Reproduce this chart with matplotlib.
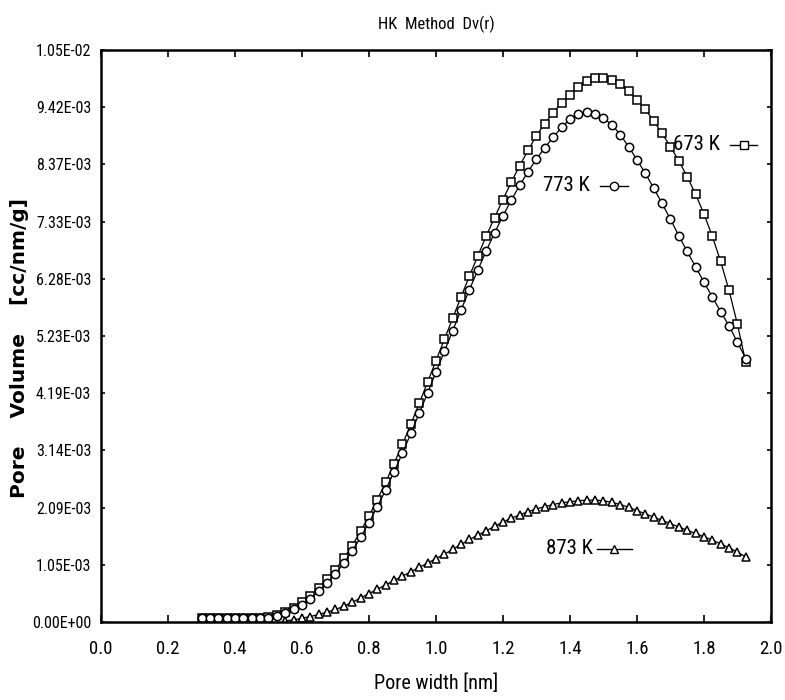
import numpy as np
import matplotlib
matplotlib.use("Agg")
import matplotlib.pyplot as plt
from matplotlib import font_manager as fm

# ---- data (values x 1e-3 cc/nm/g) ----
x_673 = [0.300, 0.325, 0.350, 0.375, 0.400, 0.425, 0.450, 0.475, 0.500, 0.525,
         0.550, 0.575, 0.600, 0.625, 0.650, 0.675, 0.700, 0.725, 0.750, 0.775,
         0.800, 0.825, 0.850, 0.875, 0.900, 0.925, 0.950, 0.975, 1.000, 1.025,
         1.050, 1.075, 1.100, 1.125, 1.150, 1.175, 1.200, 1.225, 1.250, 1.275,
         1.300, 1.325, 1.350, 1.375, 1.400, 1.425, 1.450, 1.475, 1.500, 1.525,
         1.550, 1.575, 1.600, 1.625, 1.650, 1.675, 1.700, 1.725, 1.750, 1.775,
         1.800, 1.825, 1.850, 1.875, 1.900, 1.925]
v_673 = [0.08, 0.08, 0.08, 0.08, 0.08, 0.08, 0.08, 0.08, 0.09, 0.12,
         0.18, 0.26, 0.36, 0.48, 0.62, 0.78, 0.96, 1.17, 1.40, 1.66,
         1.94, 2.24, 2.56, 2.90, 3.25, 3.62, 4.00, 4.39, 4.78, 5.17,
         5.56, 5.95, 6.33, 6.70, 7.06, 7.40, 7.73, 8.05, 8.35, 8.63,
         8.90, 9.12, 9.32, 9.50, 9.65, 9.79, 9.89, 9.95, 9.96, 9.92,
         9.84, 9.72, 9.56, 9.38, 9.17, 8.94, 8.70, 8.44, 8.15, 7.83,
         7.47, 7.06, 6.60, 6.07, 5.45, 4.75]

x_773 = x_673
v_773 = [0.07, 0.07, 0.07, 0.07, 0.07, 0.07, 0.07, 0.07, 0.08, 0.11,
         0.16, 0.23, 0.32, 0.43, 0.56, 0.71, 0.88, 1.08, 1.30, 1.55,
         1.82, 2.11, 2.42, 2.75, 3.09, 3.45, 3.82, 4.19, 4.57, 4.95,
         5.33, 5.71, 6.08, 6.44, 6.79, 7.12, 7.43, 7.72, 7.99, 8.24,
         8.47, 8.68, 8.87, 9.05, 9.20, 9.30, 9.33, 9.30, 9.22, 9.10,
         8.92, 8.70, 8.46, 8.21, 7.94, 7.66, 7.37, 7.07, 6.78, 6.50,
         6.22, 5.95, 5.68, 5.42, 5.12, 4.82]

x_873 = [0.550, 0.575, 0.600, 0.625, 0.650, 0.675, 0.700, 0.725, 0.750, 0.775,
         0.800, 0.825, 0.850, 0.875, 0.900, 0.925, 0.950, 0.975, 1.000, 1.025,
         1.050, 1.075, 1.100, 1.125, 1.150, 1.175, 1.200, 1.225, 1.250, 1.275,
         1.300, 1.325, 1.350, 1.375, 1.400, 1.425, 1.450, 1.475, 1.500, 1.525,
         1.550, 1.575, 1.600, 1.625, 1.650, 1.675, 1.700, 1.725, 1.750, 1.775,
         1.800, 1.825, 1.850, 1.875, 1.900, 1.925]
v_873 = [0.02, 0.04, 0.07, 0.10, 0.14, 0.18, 0.23, 0.29, 0.36, 0.44,
         0.52, 0.60, 0.68, 0.76, 0.84, 0.92, 1.00, 1.08, 1.16, 1.24,
         1.33, 1.42, 1.51, 1.59, 1.67, 1.75, 1.83, 1.90, 1.96, 2.02,
         2.07, 2.11, 2.15, 2.18, 2.20, 2.22, 2.23, 2.23, 2.22, 2.19,
         2.15, 2.10, 2.04, 1.98, 1.92, 1.86, 1.80, 1.74, 1.68, 1.62,
         1.56, 1.50, 1.43, 1.36, 1.28, 1.19]

series_labels = ["673 K", "773 K", "873 K"]
y_ticks = [0.0, 1.0467e-3, 2.0933e-3, 3.14e-3, 4.1867e-3, 5.2333e-3,
           6.28e-3, 7.3267e-3, 8.3733e-3, 9.42e-3, 1.04667e-2]
x_ticks = [0.0, 0.2, 0.4, 0.6, 0.8, 1.0, 1.2, 1.4, 1.6, 1.8, 2.0]


def available(name, stretch="normal"):
    try:
        return fm.findfont(fm.FontProperties(family=name, stretch=stretch),
                           fallback_to_default=False)
    except Exception:
        return None

# choose a narrow font when one exists, otherwise DejaVu Sans at smaller sizes
narrow = None
stretch = "normal"
for cand in ["Liberation Sans Narrow", "Roboto Condensed", "Open Sans Condensed",
             "Noto Sans Condensed"]:
    if available(cand):
        narrow = cand
        break
if narrow is None:
    p = available("DejaVu Sans", "condensed")
    if p and "ondensed" in p:
        narrow, stretch = "DejaVu Sans", "condensed"
if narrow is None:
    fam = "DejaVu Sans"
    fs_ytick, fs_xtick, fs_title, fs_xlab, fs_ann = 10, 11, 11, 12.5, 12
else:
    fam = narrow
    fs_ytick, fs_xtick, fs_title, fs_xlab, fs_ann = 11.5, 13.5, 12, 14.5, 15

fig = plt.figure(figsize=(7.85, 7.0), dpi=100)
ax = fig.add_axes([0.1287, 0.1114, 0.8533, 0.8172])

def sc(v):
    return np.array(v) * 1e-3

ax.plot(x_673, sc(v_673), color="black", lw=0.9, marker="s", ms=6,
        mfc="white", mec="black", mew=1.1)
ax.plot(x_773, sc(v_773), color="black", lw=0.9, marker="o", ms=6,
        mfc="white", mec="black", mew=1.1)
ax.plot(x_873, sc(v_873), color="black", lw=0.9, marker="^", ms=6,
        mfc="white", mec="black", mew=1.1)

# in-plot labels with marker keys
def key(xt, yt, x0, x1, mk, label):
    ax.text(xt, yt, label, ha="right", va="center", fontsize=fs_ann,
            family=fam, fontstretch=stretch)
    ax.plot([x0, x1], [yt, yt], color="black", lw=1.0)
    ax.plot([(x0 + x1) / 2], [yt], marker=mk, ms=6, mfc="white",
            mec="black", mew=1.0, ls="none")

key(1.848, 8.73e-3, 1.877, 1.96, "s", series_labels[0])
key(1.460, 7.98e-3, 1.49, 1.573, "o", series_labels[1])
key(1.469, 1.34e-3, 1.48, 1.585, "^", series_labels[2])

ax.set_xlim(0.0, 2.0)
ax.set_ylim(0.0, 1.04667e-2)
ax.set_xticks(x_ticks)
ax.set_xticklabels(["%.1f" % v for v in x_ticks], family=fam,
                   fontstretch=stretch, fontsize=fs_xtick)
ax.set_yticks(y_ticks)
ax.set_yticklabels(["%.2E" % v for v in y_ticks], family=fam,
                   fontstretch=stretch, fontsize=fs_ytick)
ax.tick_params(direction="in", top=True, right=True, length=5, width=1.2)
ax.tick_params(axis="y", length=3, pad=7)
ax.tick_params(axis="x", pad=13)
for s in ax.spines.values():
    s.set_linewidth(1.8)

ax.set_title("HK  Method  Dv(r)", family=fam, fontstretch=stretch,
             fontsize=fs_title, pad=15)
ax.set_xlabel("Pore width [nm]", family=fam, fontstretch=stretch,
              fontsize=fs_xlab, labelpad=11)
fig.text(0.025, 0.503, "Pore    Volume    [cc/nm/g]", rotation=90, ha="center",
         va="center", fontsize=14.5, fontweight="bold", family="DejaVu Sans")

fig.savefig("out.png", dpi=100)
